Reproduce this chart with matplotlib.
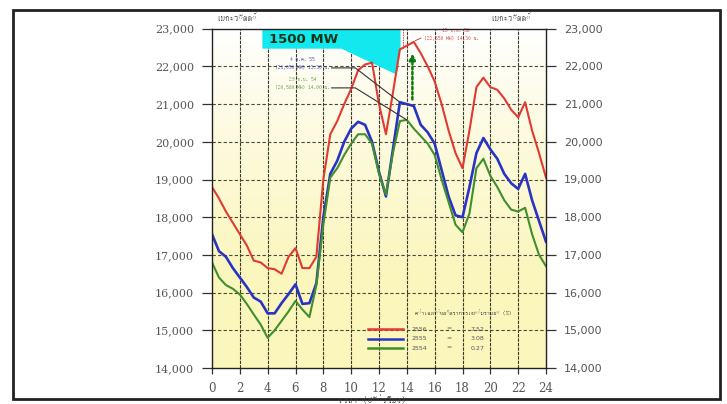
import numpy as np
import matplotlib
matplotlib.use("Agg")
import matplotlib.pyplot as plt
from matplotlib import font_manager
from matplotlib.ft2font import FT2Font
from matplotlib.patches import Polygon, Rectangle

# half-hourly load (MW), 00:00 .. 24:00
hours = np.arange(0, 24.01, 0.5)

load_2556 = [18800, 18500, 18150, 17850, 17550, 17250, 16850, 16800, 16650, 16620,
             16500, 16950, 17180, 16650, 16650, 16950, 19000, 20200, 20550, 21000,
             21400, 21900, 22050, 22100, 21000, 20200, 21300, 22450, 22550, 22650,
             22350, 22000, 21600, 21000, 20300, 19700, 19300, 20300, 21450, 21700,
             21450, 21380, 21150, 20850, 20650, 21050, 20300, 19700, 19050]

load_2555 = [17550, 17100, 16950, 16650, 16400, 16150, 15870, 15760, 15450, 15450,
             15720, 15960, 16220, 15700, 15720, 16250, 18000, 19150, 19500, 20000,
             20350, 20530, 20450, 20000, 19200, 18550, 19800, 21050, 21000, 20950,
             20450, 20250, 19950, 19250, 18550, 18050, 18000, 18800, 19700, 20100,
             19800, 19550, 19150, 18900, 18750, 19150, 18450, 17900, 17350]

load_2554 = [16800, 16400, 16200, 16100, 15950, 15700, 15420, 15150, 14800, 15000,
             15250, 15500, 15780, 15550, 15350, 16200, 17800, 19050, 19300, 19650,
             19950, 20200, 20200, 19950, 19150, 18600, 19700, 20550, 20580, 20350,
             20150, 19950, 19650, 19000, 18400, 17800, 17600, 18100, 19300, 19550,
             19100, 18800, 18450, 18200, 18150, 18250, 17550, 17000, 16700]

series_years = ["2556", "2555", "2554"]
series_growth = ["7.52", "3.08", "0.27"]
series_colors = ["#e03a32", "#2a34c4", "#3f8f2c"]

peak_notes = [("13 ก.ย. 56", "(22,650 MW) 14.30 น."),
              ("4 ต.ค. 55", "(21,050 MW) 13.30 น."),
              ("29 ก.ย. 54", "(20,580 MW) 14.00 น.")]
peak_points = [(14.5, 22650), (13.5, 21050), (14.0, 20580)]
gap_label = "1500 MW"

y_ticks = np.arange(14000, 23001, 1000)
x_ticks = np.arange(0, 25, 2)


def find_thai_family():
    for path in font_manager.findSystemFonts():
        try:
            if 0x0E40 in FT2Font(path).get_charmap():
                return font_manager.FontProperties(fname=path).get_name()
        except Exception:
            continue
    return "DejaVu Sans"


thai = find_thai_family()
thai_fam = [thai, "DejaVu Sans"]

fig = plt.figure(figsize=(7.27, 4.04), dpi=100)
fig.patch.set_facecolor("white")

# outer frame
fig.patches.append(Rectangle((13 / 727, 5 / 404), 707 / 727, 389 / 404,
                             transform=fig.transFigure, fill=False,
                             edgecolor="#222222", lw=2.0, zorder=0))

ax = fig.add_axes([212 / 727, 36 / 404, 334 / 727, 339.3 / 404])
ax.set_xlim(0, 24)
ax.set_ylim(14000, 23000)

# pale yellow background, fading to white at the top
grad = np.linspace(0, 1, 256)
grad = np.clip((grad - 0.25) / 0.75, 0, 1) ** 1.2
top = np.array([1.0, 1.0, 1.0])
bot = np.array([0.985, 0.965, 0.74])
img = (bot[None, :] * (1 - grad[:, None]) + top[None, :] * grad[:, None])[:, None, :]
ax.imshow(img, extent=[0, 24, 14000, 23000], origin="lower", aspect="auto", zorder=0)

for xv in x_ticks[1:-1]:
    ax.axvline(xv, color="#3a3a2a", lw=0.8, ls=(0, (3, 1)), zorder=1)
for yv in y_ticks[1:-1]:
    ax.axhline(yv, color="#4a4a3a", lw=0.8, ls=(0, (3, 2)), zorder=1)

# callout box
callout = Polygon([(3.62, 23000), (13.55, 23000), (13.55, 22470), (13.28, 21780),
                   (9.3, 22470), (3.62, 22470)], closed=True,
                  facecolor="#12e8ee", edgecolor="none", zorder=3)
ax.add_patch(callout)
ax.text(4.1, 22720, gap_label, fontsize=9.5, fontweight="bold", color="#143214",
        va="center", ha="left", zorder=4)

# load curves
for vals, col, lw in zip([load_2556, load_2555, load_2554], series_colors, [1.5, 1.9, 1.5]):
    ax.plot(hours, vals, color=col, lw=lw, zorder=5)

# peak notes and leader lines
ax.plot([13.75, 13.75], [23000, 22450], color="#e03a32", lw=0.6, ls=(0, (2, 1)), zorder=4)
ax.text(17.5, 22940, peak_notes[0][0], fontsize=4, color="#d02020", ha="center",
        va="center", family=thai_fam, zorder=6)
ax.text(17.2, 22750, peak_notes[0][1], fontsize=4, color="#d02020", ha="center",
        va="center", family=thai_fam, zorder=6)
ax.plot([15.0, 14.6], [22750, 22680], color="#d02020", lw=0.6, zorder=6)

ax.text(6.5, 22180, peak_notes[1][0], fontsize=4, color="#2a34c4", ha="center",
        va="center", family=thai_fam, zorder=6)
ax.text(6.5, 21960, peak_notes[1][1], fontsize=4, color="#2a34c4", ha="center",
        va="center", family=thai_fam, zorder=6)
ax.plot([8.6, 10.3, peak_points[1][0]], [21960, 21960, peak_points[1][1]],
        color="#333333", lw=0.8, zorder=6)

ax.text(6.5, 21640, peak_notes[2][0], fontsize=4, color="#3f8f2c", ha="center",
        va="center", family=thai_fam, zorder=6)
ax.text(6.5, 21440, peak_notes[2][1], fontsize=4, color="#3f8f2c", ha="center",
        va="center", family=thai_fam, zorder=6)
ax.plot([8.6, 10.3, peak_points[2][0]], [21430, 21430, peak_points[2][1]],
        color="#333333", lw=0.8, zorder=6)

# gap arrow between peaks
ax.annotate("", xy=(14.4, 22420), xytext=(14.4, 21050),
            arrowprops=dict(arrowstyle="-|>", color="#0c7a0c", lw=1.8,
                            ls=(0, (1, 1)), mutation_scale=9),
            zorder=7)

# legend drawn inside the plot
ax.text(18.1, 15450, "ค่าเฉลี่ยอัตราการเพิ่มรายปี (%)", fontsize=4.5, color="#333333",
        ha="center", va="center", family=thai_fam, zorder=6)
for i, (yr, g, col) in enumerate(zip(series_years, series_growth, series_colors)):
    yy = 15030 - i * 250
    ax.plot([11.2, 13.7], [yy, yy], color=col, lw=1.8, zorder=6)
    ax.text(14.9, yy, yr, fontsize=4.5, color="#555555", ha="center", va="center", zorder=6)
    ax.text(17.0, yy, "=", fontsize=4.5, color="#555555", ha="center", va="center", zorder=6)
    ax.text(19.05, yy, g, fontsize=4.5, color="#555555", ha="center", va="center", zorder=6)

ax.set_xticks(x_ticks)
ax.set_yticks(y_ticks)
ax.set_yticklabels([f"{v:,}" for v in y_ticks])
for lab in ax.get_yticklabels() + ax.get_xticklabels():
    lab.set_family("DejaVu Serif")
    lab.set_color("#555555")
ax.tick_params(axis="y", which="both", direction="out", length=7, width=0.9,
               left=True, right=True, labelleft=True, labelright=True,
               labelsize=8, pad=6, colors="#333333", labelcolor="#555555")
ax.tick_params(axis="x", direction="out", length=4, width=0.9, labelsize=8.5,
               pad=6, colors="#333333", labelcolor="#555555")
for s in ax.spines.values():
    s.set_color("#222222")
    s.set_linewidth(1.0)
    s.set_zorder(8)

fig.text(237 / 727, 1 - 18 / 404, "เมกะวัตต์", fontsize=6.5, color="#444444",
         ha="center", va="center", family=thai_fam)
fig.text(510 / 727, 1 - 18 / 404, "เมกะวัตต์", fontsize=6.5, color="#444444",
         ha="center", va="center", family=thai_fam)
fig.text(372 / 727, 1 - 399 / 404, "เวลา (ชั่วโมง)", fontsize=7, color="#444444",
         ha="center", va="center", family=thai_fam)

fig.savefig("out.png", dpi=100)
